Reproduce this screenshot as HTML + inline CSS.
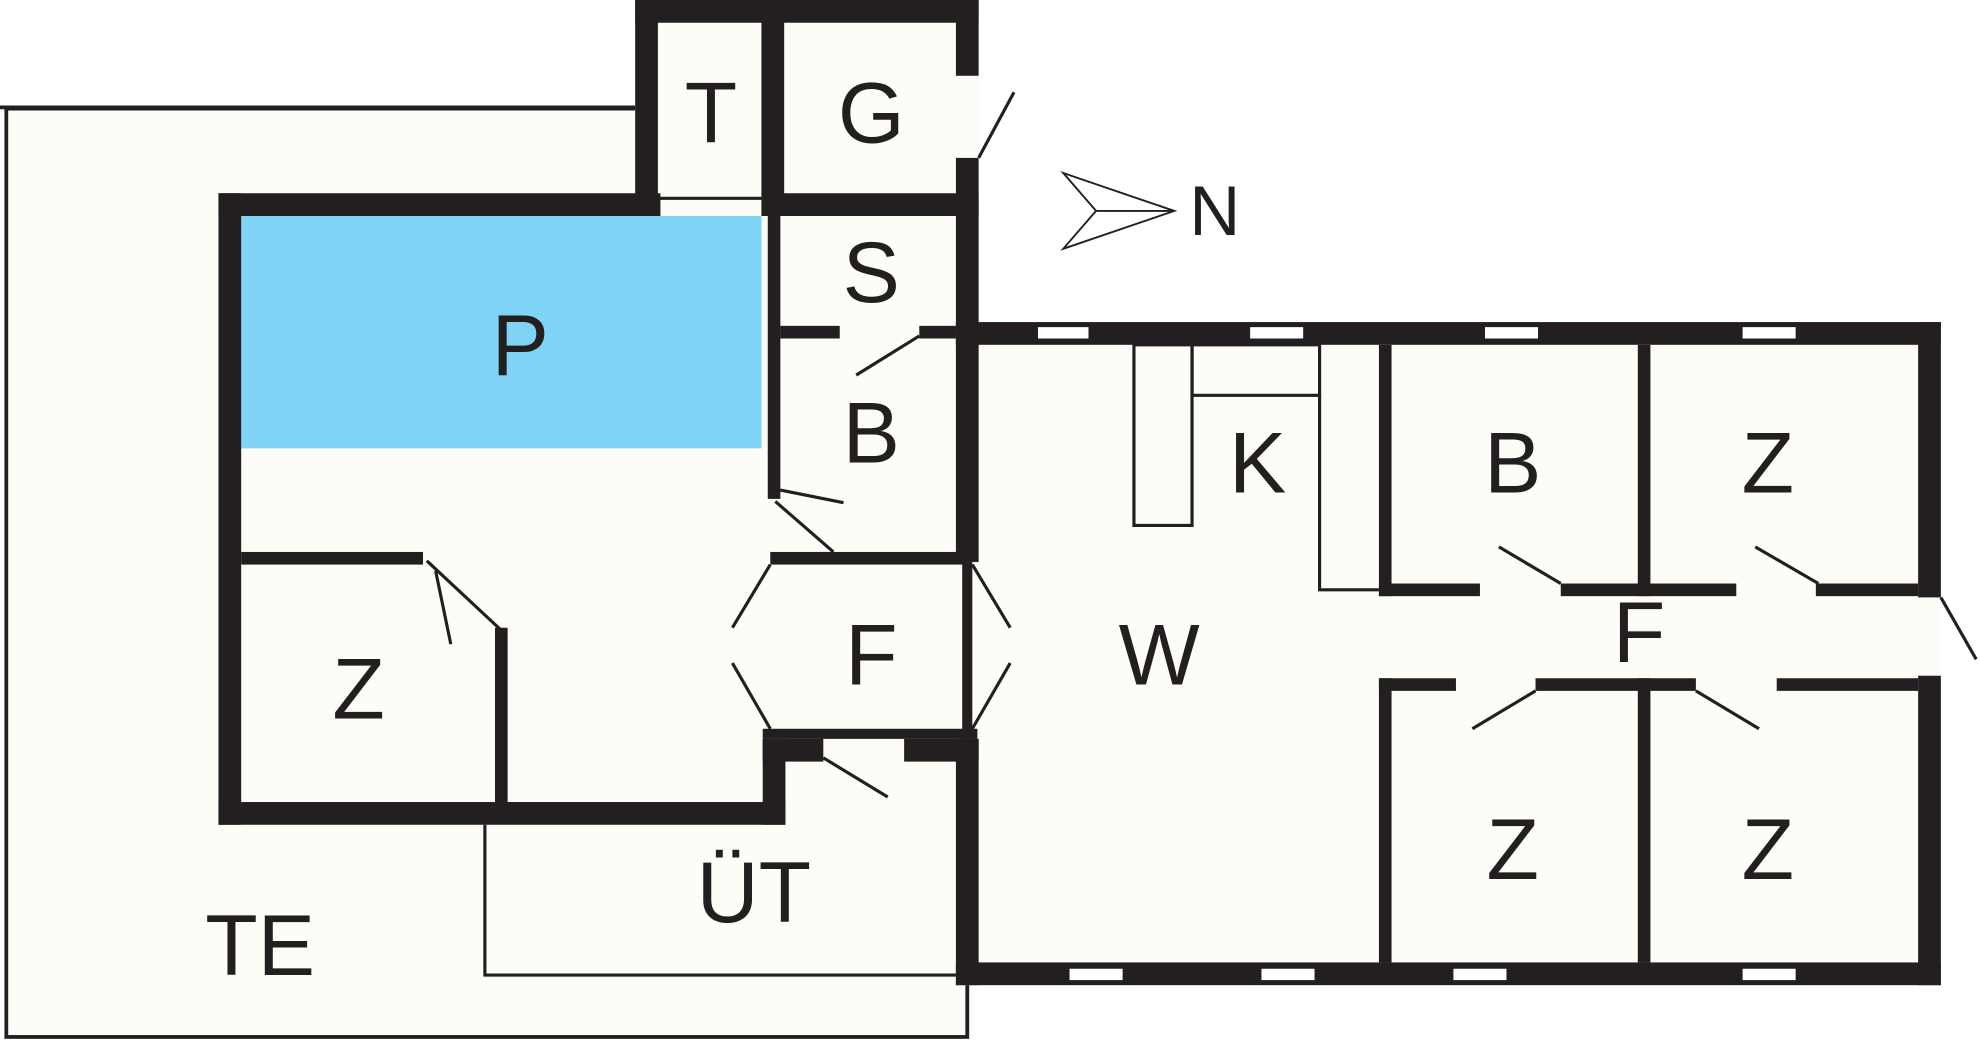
<!DOCTYPE html>
<html><head><meta charset="utf-8"><style>
html,body{margin:0;padding:0;background:#fff;overflow:hidden}
svg{display:block}
text{font-family:"Liberation Sans",sans-serif;font-size:68px;fill:#231f20;text-anchor:middle}
</style></head><body>
<svg width="1980" height="1042" viewBox="0 0 1568 825" preserveAspectRatio="none">
<rect width="1568" height="825" fill="#fff"/>
<rect x="5" y="86" width="761" height="735" fill="#fdfdf8" stroke="#231f20" stroke-width="3"/>
<line x1="0" y1="85" x2="503" y2="85" stroke="#231f20" stroke-width="3"/>
<rect x="173" y="153" width="602" height="500" fill="#fdfdf8"/>
<rect x="503" y="0" width="272" height="171" fill="#fdfdf8"/>
<rect x="757" y="255" width="780" height="525" fill="#fdfdf8"/>
<rect x="191" y="171" width="412" height="184" fill="#7fd3f5"/>
<g fill="#231f20">
<rect x="503" y="0" width="272" height="18"/>
<rect x="503" y="0" width="18" height="160"/>
<rect x="603" y="0" width="18" height="171"/>
<rect x="757" y="0" width="18" height="60"/>
<rect x="757" y="125" width="18" height="148"/>
<rect x="603" y="153" width="172" height="18"/>
<rect x="173" y="153" width="350" height="18"/>
<rect x="173" y="153" width="18" height="500"/>
<rect x="173" y="635" width="449" height="18"/>
<rect x="604" y="585" width="18" height="68"/>
<rect x="604" y="585" width="48" height="18"/>
<rect x="716" y="585" width="59" height="18"/>
<rect x="608" y="171" width="10" height="224"/>
<rect x="618" y="258" width="47" height="10"/>
<rect x="728" y="258" width="29" height="10"/>
<rect x="610" y="437" width="155" height="10"/>
<rect x="191" y="437" width="144" height="10"/>
<rect x="392" y="497" width="10" height="138"/>
<rect x="604" y="577" width="170" height="8"/>
<rect x="757" y="255" width="780" height="18"/>
<rect x="757" y="762" width="780" height="18"/>
<rect x="1519" y="255" width="18" height="218"/>
<rect x="1519" y="535" width="18" height="245"/>
<rect x="757" y="255" width="18" height="190"/>
<rect x="757" y="585" width="18" height="195"/>
<rect x="762" y="445" width="8" height="140"/>
<rect x="1092" y="273" width="10" height="199"/>
<rect x="1297" y="273" width="10" height="199"/>
<rect x="1092" y="462" width="80" height="10"/>
<rect x="1236" y="462" width="139" height="10"/>
<rect x="1438" y="462" width="81" height="10"/>
<rect x="1092" y="537" width="61" height="10"/>
<rect x="1216" y="537" width="127" height="10"/>
<rect x="1407" y="537" width="112" height="10"/>
<rect x="1092" y="537" width="10" height="225"/>
<rect x="1297" y="537" width="10" height="225"/>
</g>
<g fill="#fff">
<rect x="822" y="259" width="40" height="9"/><rect x="990" y="259" width="42" height="9"/>
<rect x="1176" y="259" width="42" height="9"/><rect x="1380" y="259" width="42" height="9"/>
<rect x="847" y="767" width="42" height="9"/><rect x="999" y="767" width="42" height="9"/>
<rect x="1151" y="767" width="42" height="9"/><rect x="1380" y="767" width="42" height="9"/>
</g>
<g stroke="#231f20" stroke-width="2.5" fill="none">
<line x1="521" y1="157" x2="603" y2="157"/>
<line x1="775" y1="125" x2="803" y2="73"/>
<line x1="678" y1="297" x2="728" y2="266"/>
<line x1="618" y1="388" x2="668" y2="398"/>
<line x1="614" y1="397" x2="660" y2="437"/>
<line x1="345" y1="452" x2="357" y2="510"/>
<line x1="338" y1="444" x2="398" y2="500"/>
<line x1="580" y1="497" x2="610" y2="447"/>
<line x1="580" y1="525" x2="610" y2="577"/>
<line x1="770" y1="447" x2="800" y2="497"/>
<line x1="770" y1="577" x2="800" y2="525"/>
<line x1="652" y1="600" x2="703" y2="631"/>
<polyline points="384,653 384,772 757,772"/>
<rect x="898" y="273" width="46" height="143"/>
<rect x="944" y="273" width="101" height="40"/>
<polyline points="1045,313 1045,467 1092,467"/>
<line x1="1187" y1="433" x2="1236" y2="462"/>
<line x1="1390" y1="433" x2="1440" y2="462"/>
<line x1="1166" y1="577" x2="1216" y2="547"/>
<line x1="1343" y1="547" x2="1393" y2="577"/>
<line x1="1537" y1="473" x2="1565" y2="522"/>
<polygon points="842,137 930,167 842,197 868,167" stroke-width="1.5"/>
<line x1="868" y1="167" x2="930" y2="167" stroke-width="1.5"/>
</g>
<text x="563" y="113">T</text><text x="690" y="113">G</text>
<text x="690" y="239">S</text><text x="412" y="297">P</text>
<text x="690" y="366">B</text><text x="996" y="390">K</text>
<text x="1198" y="390">B</text><text x="1400" y="390">Z</text>
<text x="284" y="569">Z</text><text x="690" y="542">F</text>
<text x="918" y="542">W</text><text x="1298" y="524">F</text>
<text x="597" y="730">ÜT</text><text x="206" y="772">TE</text>
<text x="1198" y="696">Z</text><text x="1400" y="696">Z</text>
<text x="962" y="186" style="font-size:56px">N</text>
</svg>
</body></html>
